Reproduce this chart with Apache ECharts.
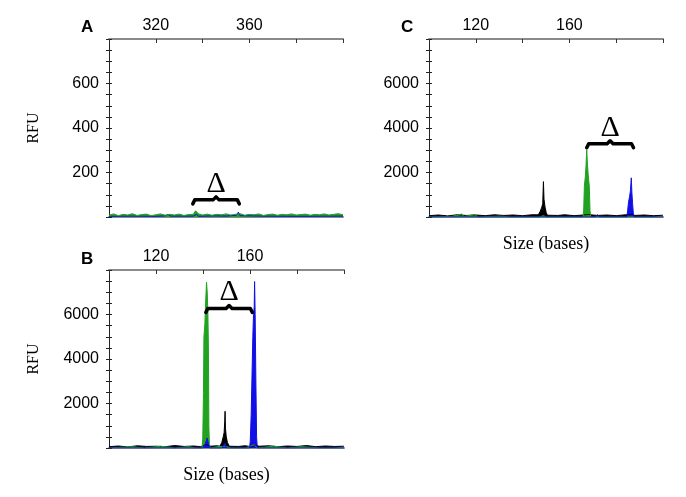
<!DOCTYPE html>
<html><head><meta charset="utf-8">
<script src="https://cdn.jsdelivr.net/npm/echarts@6/dist/echarts.min.js"></script>
<style>html,body{margin:0;padding:0;background:#fff}#c{width:686px;height:497px}</style>
</head><body><div id="c"></div>
<script>
// ---------- DATA ----------
// Panel A (size 300-400 bases, RFU 0-800)
const greenA = [[300,8],[302,14],[304,6],[306,12],[308,9],[310,15],[312,7],[314,11],[316,13],[318,6],[320,10],[322,14],[324,8],[326,12],[328,9],[330,13],[332,7],[334,11],[336,12],[337,28],[337.6,35],[338.3,14],[340,9],[342,13],[344,8],[346,12],[348,10],[350,14],[352,9],[354,12],[356,15],[358,8],[360,12],[362,10],[364,14],[366,7],[368,11],[370,13],[372,8],[374,12],[376,10],[378,14],[380,9],[382,11],[384,13],[386,8],[388,12],[390,10],[392,14],[394,9],[396,12],[398,15],[400,10]];
const blueA = [[300,3],[310,4],[320,3],[324,5],[325.2,12],[326.2,4],[336,4],[337.4,12],[338.2,3],[345,5],[350,4],[354.5,8],[355.3,22],[356,6],[365,4],[380,3],[400,4]];
// Panel B (size 100-200 bases, RFU 0-8000)
const blackB = [[100,60],[104,90],[108,50],[112,100],[116,70],[120,80],[124,60],[128,110],[132,70],[136,90],[139,60],[141.5,150],[143,80],[146,100],[147.2,80],[148,250],[148.6,500],[149.0,700],[149.25,1200],[149.4,1650],[149.55,900],[149.9,500],[150.4,250],[151.2,80],[155,70],[158,100],[160.5,60],[162,120],[164,80],[168,100],[172,60],[176,90],[180,70],[184,110],[188,60],[192,90],[196,70],[200,80]];
const greenB = [[100,0],[110,60],[115,0],[122,80],[128,0],[134,60],[137,0],[139.6,0],[139.9,400],[140.2,2500],[140.4,5000],[140.8,5600],[141.1,6500],[141.5,7450],[141.8,7000],[142.1,6000],[142.3,4500],[142.5,1000],[142.7,200],[143,0],[146,60],[149.5,80],[152,0],[158,0],[161.8,150],[163,0],[170,80],[176,0],[182,60],[190,0],[200,0]];
const blueB = [[100,0],[140,0],[141,200],[141.8,450],[142.4,150],[143,0],[148,0],[149.3,200],[150,0],[159.8,0],[160.1,300],[160.5,1500],[160.9,3500],[161.2,5000],[161.5,6000],[161.8,6350],[161.95,7480],[162.2,6000],[162.5,3000],[162.8,500],[163.1,0],[200,0]];
// Panel C (size 100-200 bases, RFU 0-8000)
const blackC = [[100,60],[104,90],[108,50],[112,100],[116,70],[120,90],[124,60],[128,100],[132,70],[136,90],[140,60],[144,100],[146.7,100],[147.5,250],[148.2,440],[148.6,600],[148.9,1590],[149.15,800],[149.6,440],[150.1,200],[150.6,80],[155,70],[158,100],[162,60],[166,90],[168,110],[172,70],[176,90],[180,60],[184,100],[186.5,120],[188,70],[192,90],[196,60],[200,80]];
const greenC = [[100,0],[110,30],[113.9,130],[115,20],[119.6,110],[121,0],[130,40],[135,0],[147,0],[149,60],[150,0],[165.8,0],[166.1,300],[166.4,1400],[166.8,1800],[167.1,2300],[167.4,3020],[167.7,2400],[168.1,1800],[168.5,1400],[168.8,300],[169.1,0],[200,0]];
const blueC = [[100,0],[171,0],[172,100],[173,0],[184.6,0],[184.9,300],[185.3,700],[185.7,900],[186.1,1200],[186.45,1760],[186.7,1100],[187.0,600],[187.3,200],[187.6,0],[200,0]];
// Delta brackets: [start size, end size, RFU height]
const bracketA = [[335.8,355.7,77]];
const bracketB = [[141.2,161.0,6270]];
const bracketC = [[167.4,187.4,3290]];
// Axis ranges / tick labels
const xRangeA = [300,400], xLabelsA = [320,360];
const xRangeBC = [100,200], xLabelsBC = [120,160];
const yRangeA = [0,800], yLabelsA = [200,400,600];
const yRangeBC = [0,8000], yLabelsBC = [2000,4000,6000];

// ---------- CHART ----------
const GREEN = '#21a321', BLUE = '#1010e6', BLACK = '#000000';
const grids = [
  {left:109, top:39, width:234, height:178},
  {left:109, top:270, width:235, height:178},
  {left:429, top:39, width:234, height:178}
];
const tickFont = {fontFamily:'Liberation Sans, Arial', fontSize:16, color:'#000'};
function xAxes(gi, range, labels, name){
  return [
    {gridIndex:gi, type:'value', position:'top', min:range[0], max:range[1], interval:20,
     axisLine:{show:true, onZero:false, lineStyle:{color:'#8a8a8a', width:2}},
     axisTick:{inside:true, length:4, lineStyle:{color:'#333'}},
     splitLine:{show:false},
     axisLabel:Object.assign({margin:5, formatter:v=>labels.includes(v)?String(v):''}, tickFont)},
    {gridIndex:gi, type:'value', position:'bottom', min:range[0], max:range[1],
     axisLine:{show:true, onZero:false, lineStyle:{color:'#8a8a8a', width:2}},
     axisTick:{show:false}, axisLabel:{show:false}, splitLine:{show:false},
     name:name, nameLocation:'middle', nameGap:18,
     nameTextStyle:{fontFamily:'Liberation Serif, Times New Roman', fontSize:18, color:'#000'}}
  ];
}
function yAxes(gi, range, interval, labels, name){
  return [
    {gridIndex:gi, type:'value', position:'left', min:range[0], max:range[1], interval:interval,
     axisLine:{show:true, onZero:false, lineStyle:{color:'#222', width:1}},
     axisTick:{inside:false, length:3, lineStyle:{color:'#222'}},
     splitLine:{show:false},
     axisLabel:Object.assign({margin:10, padding:[6,0,0,0], formatter:v=>labels.includes(v)?String(v):''}, tickFont),
     name:name, nameLocation:'middle', nameRotate:90, nameGap:67,
     nameTextStyle:{fontFamily:'Liberation Serif, Times New Roman', fontSize:16, color:'#000'}},
    {gridIndex:gi, type:'value', position:'left', min:range[0], max:range[1], interval:interval,
     axisLine:{show:false, onZero:false}, axisTick:{inside:true, length:3, lineStyle:{color:'#222'}},
     axisLabel:{show:false}, splitLine:{show:false}}
  ];
}
const xAxis = [].concat(xAxes(0,xRangeA,xLabelsA,''), xAxes(1,xRangeBC,xLabelsBC,'Size (bases)'), xAxes(2,xRangeBC,xLabelsBC,'Size (bases)'));
const yAxis = [].concat(yAxes(0,yRangeA,50,yLabelsA,'RFU'), yAxes(1,yRangeBC,500,yLabelsBC,'RFU'), yAxes(2,yRangeBC,500,yLabelsBC,''));

function trace(data, color, gi){
  return {type:'line', data:data, xAxisIndex:gi*2, yAxisIndex:gi*2, showSymbol:false, symbol:'none',
    lineStyle:{color:color, width:1}, areaStyle:{color:color, opacity:1}, z:3, silent:true};
}
function bracket(data, gi){
  return {type:'custom', data:data, xAxisIndex:gi*2, yAxisIndex:gi*2, z:5, silent:true,
    encode:{x:[0,1], y:2},
    renderItem:function(params, api){
      const p1 = api.coord([api.value(0), api.value(2)]);
      const p2 = api.coord([api.value(1), api.value(2)]);
      const y = p1[1], xm = (p1[0]+p2[0])/2;
      return {type:'group', children:[
        {type:'polyline', shape:{points:[[p1[0],y+4],[p1[0]+2,y],[xm-3,y],[xm,y-3],[xm+3,y],[p2[0]-2,y],[p2[0],y+4]]},
         style:{stroke:'#000', lineWidth:3.5, fill:null, lineJoin:'round', lineCap:'round'}},
        {type:'text', x:xm, y:y-1, style:{text:'\u0394', textAlign:'center', textVerticalAlign:'bottom',
          font:'30px "Liberation Serif", "Times New Roman", serif', fill:'#000'}}
      ]};
    }};
}
const series = [
  trace(blueA, BLUE, 0), trace(greenA, GREEN, 0),
  trace(blackB, BLACK, 1), trace(greenB, GREEN, 1), trace(blueB, BLUE, 1),
  trace(blackC, BLACK, 2), trace(greenC, GREEN, 2), trace(blueC, BLUE, 2),
  bracket(bracketA, 0), bracket(bracketB, 1), bracket(bracketC, 2)
];
const panelTitle = {fontFamily:'Liberation Sans, Arial', fontSize:17, fontWeight:'bold', color:'#000'};
const chart = echarts.init(document.getElementById('c'), null, {renderer:'canvas'});
chart.setOption({
  animation:false,
  backgroundColor:'#fff',
  title:[
    {text:'A', left:76, top:14, textStyle:panelTitle},
    {text:'B', left:76, top:246, textStyle:panelTitle},
    {text:'C', left:396, top:14, textStyle:panelTitle}
  ],
  grid:grids, xAxis:xAxis, yAxis:yAxis, series:series
});
</script></body></html>
